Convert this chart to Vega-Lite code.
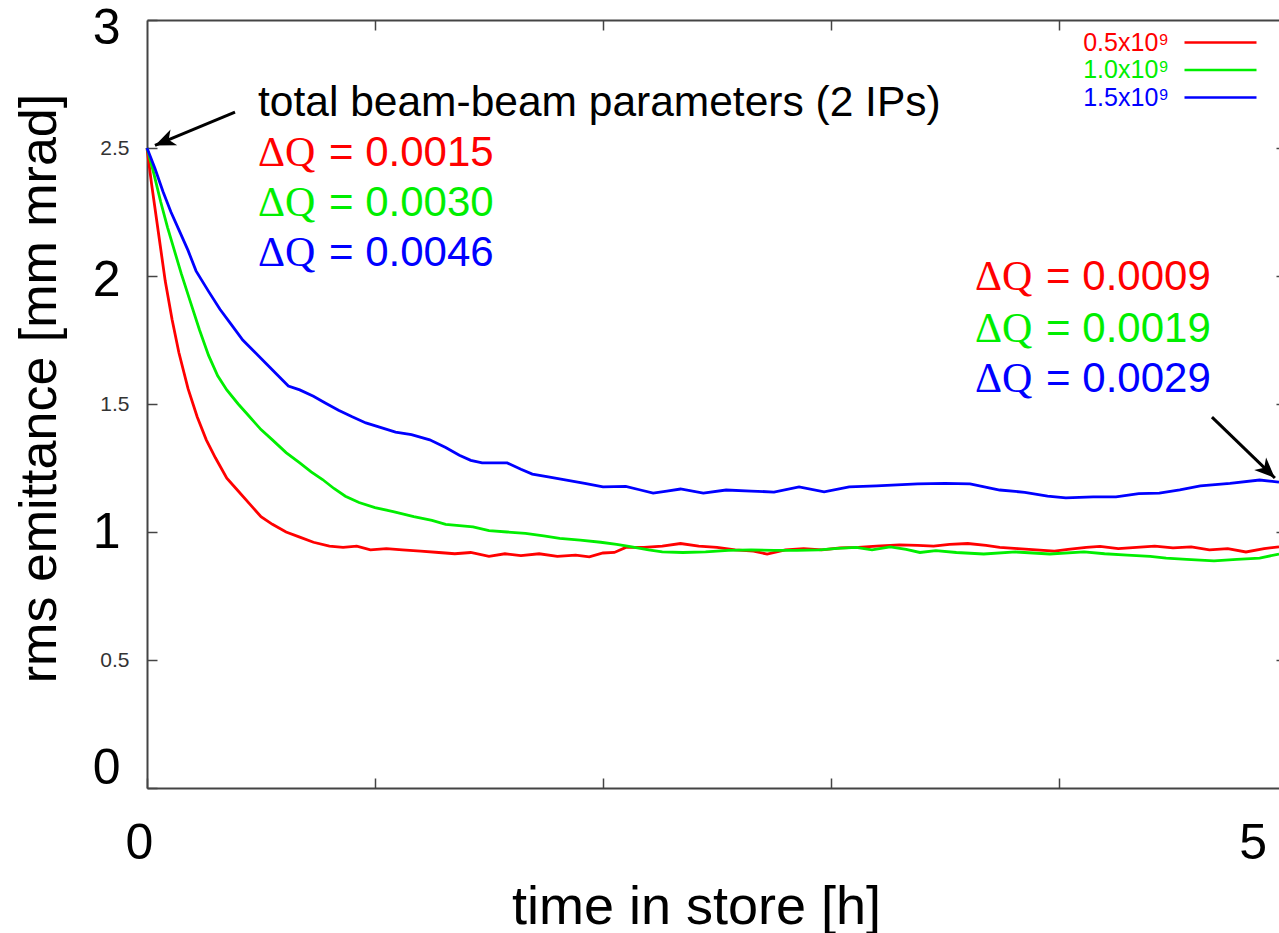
{
  "$schema": "https://vega.github.io/schema/vega-lite/v6.json",
  "width": 1132,
  "height": 768,
  "autosize": {"type": "none"},
  "padding": {"left": 147, "top": 20, "right": 0, "bottom": 145},
  "background": "white",
  "config": {
    "view": {"stroke": null},
    "font": "Liberation Sans",
    "axis": {"grid": false}
  },
  "datasets": {
    "curves": [
      {"series": "0.5x10⁹", "t": 0, "v": 2.5},
      {"series": "0.5x10⁹", "t": 0.02, "v": 2.36},
      {"series": "0.5x10⁹", "t": 0.05, "v": 2.17},
      {"series": "0.5x10⁹", "t": 0.08, "v": 1.98},
      {"series": "0.5x10⁹", "t": 0.11, "v": 1.83},
      {"series": "0.5x10⁹", "t": 0.14, "v": 1.7},
      {"series": "0.5x10⁹", "t": 0.18, "v": 1.56},
      {"series": "0.5x10⁹", "t": 0.22, "v": 1.45},
      {"series": "0.5x10⁹", "t": 0.26, "v": 1.36},
      {"series": "0.5x10⁹", "t": 0.3, "v": 1.29},
      {"series": "0.5x10⁹", "t": 0.35, "v": 1.21},
      {"series": "0.5x10⁹", "t": 0.4, "v": 1.16},
      {"series": "0.5x10⁹", "t": 0.45, "v": 1.11},
      {"series": "0.5x10⁹", "t": 0.5, "v": 1.06},
      {"series": "0.5x10⁹", "t": 0.55, "v": 1.03},
      {"series": "0.5x10⁹", "t": 0.61, "v": 1.0},
      {"series": "0.5x10⁹", "t": 0.67, "v": 0.98},
      {"series": "0.5x10⁹", "t": 0.73, "v": 0.96},
      {"series": "0.5x10⁹", "t": 0.8, "v": 0.945},
      {"series": "0.5x10⁹", "t": 0.86, "v": 0.94},
      {"series": "0.5x10⁹", "t": 0.92, "v": 0.945},
      {"series": "0.5x10⁹", "t": 0.98, "v": 0.93},
      {"series": "0.5x10⁹", "t": 1.05, "v": 0.935},
      {"series": "0.5x10⁹", "t": 1.12, "v": 0.93},
      {"series": "0.5x10⁹", "t": 1.2, "v": 0.925},
      {"series": "0.5x10⁹", "t": 1.28, "v": 0.92},
      {"series": "0.5x10⁹", "t": 1.35, "v": 0.915},
      {"series": "0.5x10⁹", "t": 1.42, "v": 0.92},
      {"series": "0.5x10⁹", "t": 1.5, "v": 0.905},
      {"series": "0.5x10⁹", "t": 1.57, "v": 0.915},
      {"series": "0.5x10⁹", "t": 1.64, "v": 0.908},
      {"series": "0.5x10⁹", "t": 1.72, "v": 0.915},
      {"series": "0.5x10⁹", "t": 1.8, "v": 0.905},
      {"series": "0.5x10⁹", "t": 1.88, "v": 0.91},
      {"series": "0.5x10⁹", "t": 1.94, "v": 0.903},
      {"series": "0.5x10⁹", "t": 2.0, "v": 0.918},
      {"series": "0.5x10⁹", "t": 2.05, "v": 0.92},
      {"series": "0.5x10⁹", "t": 2.1, "v": 0.94},
      {"series": "0.5x10⁹", "t": 2.18, "v": 0.94},
      {"series": "0.5x10⁹", "t": 2.26, "v": 0.945},
      {"series": "0.5x10⁹", "t": 2.34, "v": 0.955},
      {"series": "0.5x10⁹", "t": 2.42, "v": 0.945},
      {"series": "0.5x10⁹", "t": 2.5, "v": 0.94},
      {"series": "0.5x10⁹", "t": 2.58, "v": 0.93},
      {"series": "0.5x10⁹", "t": 2.66, "v": 0.925},
      {"series": "0.5x10⁹", "t": 2.72, "v": 0.914},
      {"series": "0.5x10⁹", "t": 2.8, "v": 0.93},
      {"series": "0.5x10⁹", "t": 2.88, "v": 0.935},
      {"series": "0.5x10⁹", "t": 2.96, "v": 0.93},
      {"series": "0.5x10⁹", "t": 3.04, "v": 0.938},
      {"series": "0.5x10⁹", "t": 3.12, "v": 0.94},
      {"series": "0.5x10⁹", "t": 3.2, "v": 0.945},
      {"series": "0.5x10⁹", "t": 3.3, "v": 0.95},
      {"series": "0.5x10⁹", "t": 3.38, "v": 0.948},
      {"series": "0.5x10⁹", "t": 3.45, "v": 0.945},
      {"series": "0.5x10⁹", "t": 3.52, "v": 0.952},
      {"series": "0.5x10⁹", "t": 3.6, "v": 0.955},
      {"series": "0.5x10⁹", "t": 3.68, "v": 0.948},
      {"series": "0.5x10⁹", "t": 3.74, "v": 0.94},
      {"series": "0.5x10⁹", "t": 3.82, "v": 0.935},
      {"series": "0.5x10⁹", "t": 3.9, "v": 0.93},
      {"series": "0.5x10⁹", "t": 3.98, "v": 0.925},
      {"series": "0.5x10⁹", "t": 4.04, "v": 0.932},
      {"series": "0.5x10⁹", "t": 4.12, "v": 0.94},
      {"series": "0.5x10⁹", "t": 4.18, "v": 0.944},
      {"series": "0.5x10⁹", "t": 4.26, "v": 0.935},
      {"series": "0.5x10⁹", "t": 4.34, "v": 0.94},
      {"series": "0.5x10⁹", "t": 4.42, "v": 0.945},
      {"series": "0.5x10⁹", "t": 4.5, "v": 0.938},
      {"series": "0.5x10⁹", "t": 4.58, "v": 0.942},
      {"series": "0.5x10⁹", "t": 4.66, "v": 0.93},
      {"series": "0.5x10⁹", "t": 4.74, "v": 0.935},
      {"series": "0.5x10⁹", "t": 4.82, "v": 0.922},
      {"series": "0.5x10⁹", "t": 4.9, "v": 0.935},
      {"series": "0.5x10⁹", "t": 4.965, "v": 0.942},
      {"series": "1.0x10⁹", "t": 0, "v": 2.5},
      {"series": "1.0x10⁹", "t": 0.03, "v": 2.4},
      {"series": "1.0x10⁹", "t": 0.06, "v": 2.29},
      {"series": "1.0x10⁹", "t": 0.09, "v": 2.19},
      {"series": "1.0x10⁹", "t": 0.12, "v": 2.1},
      {"series": "1.0x10⁹", "t": 0.15, "v": 2.01},
      {"series": "1.0x10⁹", "t": 0.19, "v": 1.9},
      {"series": "1.0x10⁹", "t": 0.23, "v": 1.79},
      {"series": "1.0x10⁹", "t": 0.27, "v": 1.69},
      {"series": "1.0x10⁹", "t": 0.31, "v": 1.61},
      {"series": "1.0x10⁹", "t": 0.35, "v": 1.555},
      {"series": "1.0x10⁹", "t": 0.4, "v": 1.5},
      {"series": "1.0x10⁹", "t": 0.45, "v": 1.45},
      {"series": "1.0x10⁹", "t": 0.5, "v": 1.4},
      {"series": "1.0x10⁹", "t": 0.55, "v": 1.36},
      {"series": "1.0x10⁹", "t": 0.61, "v": 1.31},
      {"series": "1.0x10⁹", "t": 0.67, "v": 1.27},
      {"series": "1.0x10⁹", "t": 0.72, "v": 1.235},
      {"series": "1.0x10⁹", "t": 0.77, "v": 1.205},
      {"series": "1.0x10⁹", "t": 0.82, "v": 1.17},
      {"series": "1.0x10⁹", "t": 0.87, "v": 1.14},
      {"series": "1.0x10⁹", "t": 0.93, "v": 1.115},
      {"series": "1.0x10⁹", "t": 1.0, "v": 1.095},
      {"series": "1.0x10⁹", "t": 1.08, "v": 1.08},
      {"series": "1.0x10⁹", "t": 1.17, "v": 1.06},
      {"series": "1.0x10⁹", "t": 1.25, "v": 1.045},
      {"series": "1.0x10⁹", "t": 1.31, "v": 1.03},
      {"series": "1.0x10⁹", "t": 1.37, "v": 1.025},
      {"series": "1.0x10⁹", "t": 1.43, "v": 1.02},
      {"series": "1.0x10⁹", "t": 1.5, "v": 1.005},
      {"series": "1.0x10⁹", "t": 1.58, "v": 1.0},
      {"series": "1.0x10⁹", "t": 1.66, "v": 0.995},
      {"series": "1.0x10⁹", "t": 1.74, "v": 0.985},
      {"series": "1.0x10⁹", "t": 1.81, "v": 0.975},
      {"series": "1.0x10⁹", "t": 1.9, "v": 0.968},
      {"series": "1.0x10⁹", "t": 1.99, "v": 0.96},
      {"series": "1.0x10⁹", "t": 2.06, "v": 0.952},
      {"series": "1.0x10⁹", "t": 2.12, "v": 0.943},
      {"series": "1.0x10⁹", "t": 2.2, "v": 0.93},
      {"series": "1.0x10⁹", "t": 2.26, "v": 0.922},
      {"series": "1.0x10⁹", "t": 2.35, "v": 0.92},
      {"series": "1.0x10⁹", "t": 2.45, "v": 0.922},
      {"series": "1.0x10⁹", "t": 2.55, "v": 0.928},
      {"series": "1.0x10⁹", "t": 2.65, "v": 0.93},
      {"series": "1.0x10⁹", "t": 2.75, "v": 0.928},
      {"series": "1.0x10⁹", "t": 2.85, "v": 0.928},
      {"series": "1.0x10⁹", "t": 2.95, "v": 0.93},
      {"series": "1.0x10⁹", "t": 3.03, "v": 0.936},
      {"series": "1.0x10⁹", "t": 3.11, "v": 0.94},
      {"series": "1.0x10⁹", "t": 3.18, "v": 0.93},
      {"series": "1.0x10⁹", "t": 3.26, "v": 0.942},
      {"series": "1.0x10⁹", "t": 3.33, "v": 0.932},
      {"series": "1.0x10⁹", "t": 3.39, "v": 0.92},
      {"series": "1.0x10⁹", "t": 3.46, "v": 0.927},
      {"series": "1.0x10⁹", "t": 3.55, "v": 0.92},
      {"series": "1.0x10⁹", "t": 3.67, "v": 0.914},
      {"series": "1.0x10⁹", "t": 3.81, "v": 0.922},
      {"series": "1.0x10⁹", "t": 3.96, "v": 0.914},
      {"series": "1.0x10⁹", "t": 4.11, "v": 0.922},
      {"series": "1.0x10⁹", "t": 4.2, "v": 0.915},
      {"series": "1.0x10⁹", "t": 4.3, "v": 0.91},
      {"series": "1.0x10⁹", "t": 4.4, "v": 0.905},
      {"series": "1.0x10⁹", "t": 4.47, "v": 0.898},
      {"series": "1.0x10⁹", "t": 4.56, "v": 0.893},
      {"series": "1.0x10⁹", "t": 4.68, "v": 0.887},
      {"series": "1.0x10⁹", "t": 4.78, "v": 0.893},
      {"series": "1.0x10⁹", "t": 4.88, "v": 0.898},
      {"series": "1.0x10⁹", "t": 4.965, "v": 0.914},
      {"series": "1.5x10⁹", "t": 0, "v": 2.5},
      {"series": "1.5x10⁹", "t": 0.035, "v": 2.42},
      {"series": "1.5x10⁹", "t": 0.07, "v": 2.33},
      {"series": "1.5x10⁹", "t": 0.105, "v": 2.25},
      {"series": "1.5x10⁹", "t": 0.14, "v": 2.18},
      {"series": "1.5x10⁹", "t": 0.18, "v": 2.1},
      {"series": "1.5x10⁹", "t": 0.215, "v": 2.02},
      {"series": "1.5x10⁹", "t": 0.27, "v": 1.94},
      {"series": "1.5x10⁹", "t": 0.32, "v": 1.87},
      {"series": "1.5x10⁹", "t": 0.37, "v": 1.81},
      {"series": "1.5x10⁹", "t": 0.42, "v": 1.75},
      {"series": "1.5x10⁹", "t": 0.47, "v": 1.705},
      {"series": "1.5x10⁹", "t": 0.52, "v": 1.66},
      {"series": "1.5x10⁹", "t": 0.57, "v": 1.615},
      {"series": "1.5x10⁹", "t": 0.62, "v": 1.57},
      {"series": "1.5x10⁹", "t": 0.67, "v": 1.555},
      {"series": "1.5x10⁹", "t": 0.73, "v": 1.53},
      {"series": "1.5x10⁹", "t": 0.78, "v": 1.505},
      {"series": "1.5x10⁹", "t": 0.84, "v": 1.476},
      {"series": "1.5x10⁹", "t": 0.9, "v": 1.45},
      {"series": "1.5x10⁹", "t": 0.96, "v": 1.426},
      {"series": "1.5x10⁹", "t": 1.02, "v": 1.41},
      {"series": "1.5x10⁹", "t": 1.09, "v": 1.39},
      {"series": "1.5x10⁹", "t": 1.16, "v": 1.38},
      {"series": "1.5x10⁹", "t": 1.24, "v": 1.36},
      {"series": "1.5x10⁹", "t": 1.31, "v": 1.33},
      {"series": "1.5x10⁹", "t": 1.37, "v": 1.3},
      {"series": "1.5x10⁹", "t": 1.42, "v": 1.28},
      {"series": "1.5x10⁹", "t": 1.47, "v": 1.27},
      {"series": "1.5x10⁹", "t": 1.58, "v": 1.27},
      {"series": "1.5x10⁹", "t": 1.64, "v": 1.245},
      {"series": "1.5x10⁹", "t": 1.69, "v": 1.226},
      {"series": "1.5x10⁹", "t": 1.76, "v": 1.215},
      {"series": "1.5x10⁹", "t": 1.84, "v": 1.203},
      {"series": "1.5x10⁹", "t": 1.92, "v": 1.19},
      {"series": "1.5x10⁹", "t": 2.0, "v": 1.176},
      {"series": "1.5x10⁹", "t": 2.1, "v": 1.178},
      {"series": "1.5x10⁹", "t": 2.16, "v": 1.165},
      {"series": "1.5x10⁹", "t": 2.22, "v": 1.152},
      {"series": "1.5x10⁹", "t": 2.28, "v": 1.16},
      {"series": "1.5x10⁹", "t": 2.34, "v": 1.168},
      {"series": "1.5x10⁹", "t": 2.44, "v": 1.152},
      {"series": "1.5x10⁹", "t": 2.54, "v": 1.164},
      {"series": "1.5x10⁹", "t": 2.65, "v": 1.16},
      {"series": "1.5x10⁹", "t": 2.75, "v": 1.156},
      {"series": "1.5x10⁹", "t": 2.86, "v": 1.176},
      {"series": "1.5x10⁹", "t": 2.97, "v": 1.157},
      {"series": "1.5x10⁹", "t": 3.08, "v": 1.176},
      {"series": "1.5x10⁹", "t": 3.2, "v": 1.18},
      {"series": "1.5x10⁹", "t": 3.38, "v": 1.188},
      {"series": "1.5x10⁹", "t": 3.5, "v": 1.19},
      {"series": "1.5x10⁹", "t": 3.61, "v": 1.188},
      {"series": "1.5x10⁹", "t": 3.74, "v": 1.164},
      {"series": "1.5x10⁹", "t": 3.85, "v": 1.155},
      {"series": "1.5x10⁹", "t": 3.95, "v": 1.14},
      {"series": "1.5x10⁹", "t": 4.03, "v": 1.133},
      {"series": "1.5x10⁹", "t": 4.15, "v": 1.137},
      {"series": "1.5x10⁹", "t": 4.25, "v": 1.137},
      {"series": "1.5x10⁹", "t": 4.35, "v": 1.15},
      {"series": "1.5x10⁹", "t": 4.44, "v": 1.152},
      {"series": "1.5x10⁹", "t": 4.53, "v": 1.165},
      {"series": "1.5x10⁹", "t": 4.62, "v": 1.18},
      {"series": "1.5x10⁹", "t": 4.75, "v": 1.19},
      {"series": "1.5x10⁹", "t": 4.88, "v": 1.203},
      {"series": "1.5x10⁹", "t": 4.965, "v": 1.195}
    ],
    "arrows": [
      {"t": 0.386, "v": 2.64, "t2": 0.035, "v2": 2.51},
      {"t": 4.671, "v": 1.449, "t2": 4.947, "v2": 1.211}
    ],
    "heading": [
      {"t": 0.487, "v": 2.676, "text": "total beam-beam parameters (2 IPs)"}
    ],
    "dq": [
      {"series": "0.5x10⁹", "t": 0.487, "v": 2.48, "label": "= 0.0015"},
      {"series": "1.0x10⁹", "t": 0.487, "v": 2.285, "label": "= 0.0030"},
      {"series": "1.5x10⁹", "t": 0.487, "v": 2.09, "label": "= 0.0046"},
      {"series": "0.5x10⁹", "t": 3.632, "v": 1.996, "label": "= 0.0009"},
      {"series": "1.0x10⁹", "t": 3.632, "v": 1.793, "label": "= 0.0019"},
      {"series": "1.5x10⁹", "t": 3.632, "v": 1.598, "label": "= 0.0029"}
    ]
  },
  "resolve": {"axis": {"x": "independent", "y": "independent"}},
  "layer": [
    {
      "data": {"name": "curves"},
      "mark": {"type": "line", "strokeWidth": 2.8},
      "encoding": {
        "x": {
          "field": "t", "type": "quantitative",
          "scale": {"domain": [0, 4.965], "nice": false, "zero": false},
          "axis": {
            "orient": "bottom",
            "values": [0, 1, 2, 3, 4, 4.85],
            "labelExpr": "datum.value == 0 ? '0' : (datum.value > 4.5 ? '5' : '')",
            "labelFont": "Liberation Sans",
            "labelFontSize": 50,
            "labelColor": "black",
            "labelPadding": 40,
            "labelFlush": false,
            "labelOverlap": false,
            "labelBound": false,
            "labelOffset": {"condition": {"test": "datum.value == 0", "value": -8}, "value": 0},
            "tickSize": -10,
            "tickWidth": 1.5,
            "tickColor": "#444",
            "tickOpacity": {"condition": {"test": "datum.value > 4.5", "value": 0}, "value": 1},
            "domainColor": "#444",
            "domainWidth": 2,
            "title": "time in store [h]",
            "titleFont": "Liberation Sans",
            "titleFontSize": 54,
            "titleFontWeight": "normal",
            "titleColor": "black",
            "titleX": 549,
            "titleY": 135,
            "titleBaseline": "alphabetic",
            "titleAlign": "center"
          }
        },
        "y": {
          "field": "v", "type": "quantitative",
          "scale": {"domain": [0, 3], "nice": false},
          "axis": {
            "orient": "left",
            "values": [0, 0.5, 1, 1.5, 2, 2.5, 3],
            "format": "~g",
            "labelFont": "Liberation Sans",
            "labelFontSize": {"condition": {"test": "datum.value % 1 === 0", "value": 50}, "value": 21},
            "labelColor": {"condition": {"test": "datum.value % 1 === 0", "value": "black"}, "value": "#333333"},
            "labelPadding": {"condition": {"test": "datum.value % 1 === 0", "value": 37}, "value": 28},
            "labelOffset": {"condition": [{"test": "datum.value == 0", "value": -20}, {"test": "datum.value == 3", "value": 8}, {"test": "datum.value == 2", "value": 4}], "value": 0},
            "labelOverlap": false,
            "labelBound": false,
            "labelFlush": false,
            "tickSize": -10,
            "tickWidth": 1.5,
            "tickColor": "#444",
            "domainColor": "#444",
            "domainWidth": 2,
            "title": "rms emittance [mm mrad]",
            "titleFont": "Liberation Sans",
            "titleFontSize": 52,
            "titleFontWeight": "normal",
            "titleColor": "black",
            "titleAngle": -90,
            "titleX": -92,
            "titleY": 368,
            "titleBaseline": "alphabetic",
            "titleAlign": "center"
          }
        },
        "color": {
          "field": "series", "type": "nominal",
          "scale": {"domain": ["0.5x10⁹", "1.0x10⁹", "1.5x10⁹"], "range": ["#ff0000", "#00ee00", "#0000ff"]},
          "legend": {
            "orient": "none",
            "legendX": 1061,
            "legendY": 10,
            "title": null,
            "padding": 0,
            "symbolType": "M-3.6,0L3.6,0",
            "symbolSize": 400,
            "symbolStrokeWidth": 2.5,
            "labelFont": "Liberation Sans",
            "labelFontSize": 25,
            "labelAlign": "right",
            "labelOffset": -64,
            "rowPadding": 1.5,
            "encode": {"labels": {"update": {"fill": {"scale": "color", "field": "value"}}}}
          }
        }
      }
    },
    {
      "data": {"name": "arrows"},
      "mark": {"type": "rule", "strokeWidth": 3, "color": "black"},
      "encoding": {
        "x": {
          "field": "t", "type": "quantitative",
          "axis": {
            "orient": "top",
            "values": [1, 2, 3, 4],
            "labels": false,
            "title": null,
            "tickSize": -10,
            "tickWidth": 1.5,
            "tickColor": "#444",
            "domainColor": "#444",
            "domainWidth": 2
          }
        },
        "x2": {"field": "t2"},
        "y": {
          "field": "v", "type": "quantitative",
          "axis": {
            "orient": "right",
            "values": [0.5, 1, 1.5, 2, 2.5],
            "labels": false,
            "title": null,
            "domain": false,
            "tickSize": -3,
            "tickWidth": 1.5,
            "tickColor": "#444"
          }
        },
        "y2": {"field": "v2"}
      }
    },
    {
      "data": {"name": "arrows"},
      "transform": [{"filter": "datum.t2 < 1"}],
      "mark": {"type": "point", "shape": "M0,0L0.75,1.8L0,1.3L-0.75,1.8Z", "size": 520, "filled": true, "opacity": 1, "color": "black", "angle": 247},
      "encoding": {
        "x": {"field": "t2", "type": "quantitative", "axis": null},
        "y": {"field": "v2", "type": "quantitative", "axis": null}
      }
    },
    {
      "data": {"name": "arrows"},
      "transform": [{"filter": "datum.t2 > 1"}],
      "mark": {"type": "point", "shape": "M0,0L0.75,1.8L0,1.3L-0.75,1.8Z", "size": 520, "filled": true, "opacity": 1, "color": "black", "angle": 134},
      "encoding": {
        "x": {"field": "t2", "type": "quantitative", "axis": null},
        "y": {"field": "v2", "type": "quantitative", "axis": null}
      }
    },
    {
      "data": {"name": "heading"},
      "mark": {"type": "text", "align": "left", "baseline": "middle", "font": "Liberation Sans", "fontSize": 42.5, "color": "black"},
      "encoding": {
        "x": {"field": "t", "type": "quantitative", "axis": null},
        "y": {"field": "v", "type": "quantitative", "axis": null},
        "text": {"field": "text"}
      }
    },
    {
      "data": {"name": "dq"},
      "mark": {"type": "text", "align": "left", "baseline": "middle", "font": "Liberation Serif", "fontSize": 42},
      "encoding": {
        "x": {"field": "t", "type": "quantitative", "axis": null},
        "y": {"field": "v", "type": "quantitative", "axis": null},
        "text": {"value": "ΔQ"},
        "color": {"field": "series", "type": "nominal", "legend": null}
      }
    },
    {
      "data": {"name": "dq"},
      "mark": {"type": "text", "align": "left", "baseline": "middle", "font": "Liberation Sans", "fontSize": 42, "dx": 71},
      "encoding": {
        "x": {"field": "t", "type": "quantitative", "axis": null},
        "y": {"field": "v", "type": "quantitative", "axis": null},
        "text": {"field": "label"},
        "color": {"field": "series", "type": "nominal", "legend": null}
      }
    }
  ]
}
